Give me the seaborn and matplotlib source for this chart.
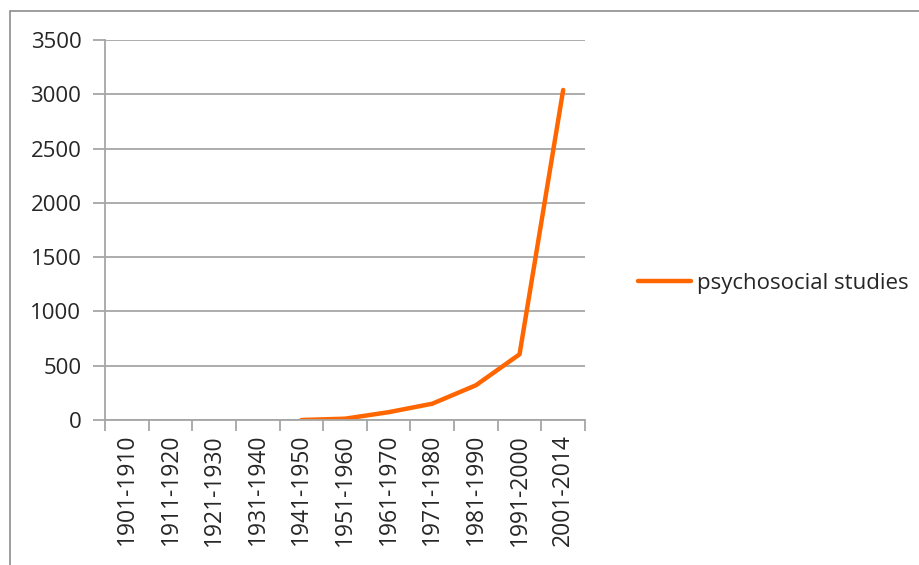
import numpy as np
import pandas as pd
import seaborn as sns
import matplotlib.pyplot as plt
from matplotlib.patches import Rectangle

# periodos y numero de estudios psicosociales
periods = ["1901-1910", "1911-1920", "1921-1930", "1931-1940", "1941-1950",
           "1951-1960", "1961-1970", "1971-1980", "1981-1990", "1991-2000", "2001-2014"]
studies = [np.nan, np.nan, np.nan, np.nan, 0, 12, 72, 150, 320, 605, 3040]
y_ticks = [0, 500, 1000, 1500, 2000, 2500, 3000, 3500]

df = pd.DataFrame({"pos": np.arange(len(periods)), "periodo": periods, "estudios": studies})
df = df.dropna()

sns.set_style("white")
plt.rcParams["font.family"] = ["Open Sans", "DejaVu Sans"]

W, H = 919, 565
fig = plt.figure(figsize=(W / 100, H / 100), dpi=100)
ax = fig.add_axes([105 / W, (H - 420) / H, 480 / W, 380 / H])

# marco exterior del grafico
fig.patches.append(Rectangle((10 / W, -0.05), 1.0, (H - 11) / H + 0.05, transform=fig.transFigure,
                             fill=False, edgecolor="#8c8c8c", linewidth=1.2))

sns.lineplot(x="pos", y="estudios", data=df, ax=ax, color="#ff6600", linewidth=3.2,
             label="psychosocial studies", legend=False, sort=False)

ax.set_xlim(-0.5, len(periods) - 0.5)
ax.set_ylim(0, 3500)
ax.set_yticks(y_ticks)
ax.set_yticklabels([str(v) for v in y_ticks], fontsize=16)
ax.yaxis.grid(True, color="#a6a6a6", linewidth=1.3)
ax.set_axisbelow(True)

# etiquetas en el centro, marcas entre categorias
ax.set_xticks(np.arange(len(periods) + 1) - 0.5)
ax.set_xticklabels([])
ax.set_xticks(np.arange(len(periods)), minor=True)
ax.set_xticklabels(periods, minor=True, rotation=90, fontsize=16.5)
ax.tick_params(axis="x", which="major", length=8, width=1.3, color="#a6a6a6", direction="out", bottom=True)
ax.tick_params(axis="x", which="minor", length=0, pad=10)
ax.tick_params(axis="y", length=9, width=1.3, color="#a6a6a6", direction="out", left=True, pad=8)

for s in ["top", "right"]:
    ax.spines[s].set_visible(False)
for s in ["left", "bottom"]:
    ax.spines[s].set_color("#a6a6a6")
    ax.spines[s].set_linewidth(1.3)

ax.set_xlabel("")
ax.set_ylabel("")

handles, labels = ax.get_legend_handles_labels()
fig.legend(handles, labels, loc="center left", bbox_to_anchor=(618 / W, 1 - 283 / H),
           frameon=False, fontsize=16, handlelength=2.4, handletextpad=0.25)

fig.savefig("out.png", dpi=100)
